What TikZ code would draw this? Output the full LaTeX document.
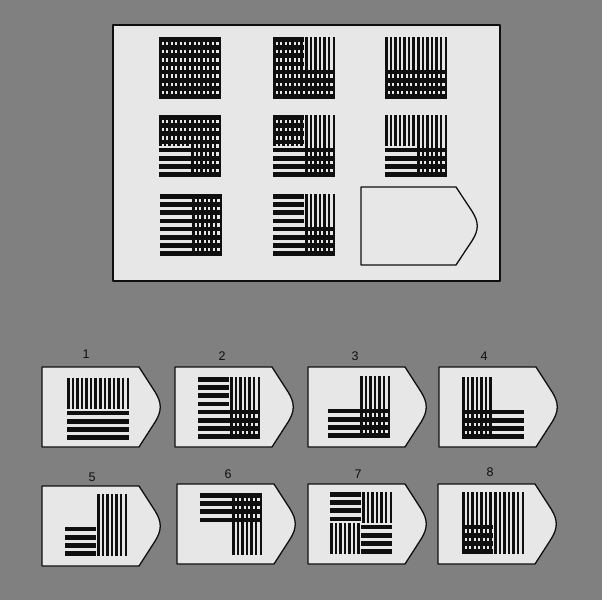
\documentclass[tikz,border=0pt]{standalone}
\usepackage{fontspec}
\setmainfont{Liberation Sans}
\definecolor{bg}{RGB}{128,128,128}
\definecolor{card}{RGB}{231,231,231}
\definecolor{ink}{RGB}{15,15,15}
% pattern: #1 origin, #2-#5 horizontal bars in TL TR BL BR, #6-#9 vertical bars in TL TR BL BR
\newcommand\patt[9]{%
\begin{scope}[shift={(#1)}]
\ifnum#2=1 \foreach \i in {0,...,3}{\fill[ink] (0,\i*8.2) rectangle (31,\i*8.2+4.6);}\fi
\ifnum#3=1 \foreach \i in {0,...,3}{\fill[ink] (31,\i*8.2) rectangle (62,\i*8.2+4.6);}\fi
\ifnum#4=1 \foreach \i in {4,...,7}{\fill[ink] (0,\i*8.2) rectangle (31,\i*8.2+4.6);}\fi
\ifnum#5=1 \foreach \i in {4,...,7}{\fill[ink] (31,\i*8.2) rectangle (62,\i*8.2+4.6);}\fi
\ifnum#6=1 \foreach \j in {0,...,6}{\fill[ink] (\j*4.577,0) rectangle (\j*4.577+2.5,31);}\fi
\ifnum#7=1 \foreach \j in {7,...,13}{\fill[ink] (\j*4.577,0) rectangle (\j*4.577+2.5,31);}\fi
\ifnum#8=1 \foreach \j in {0,...,6}{\fill[ink] (\j*4.577,31) rectangle (\j*4.577+2.5,62);}\fi
\ifnum#9=1 \foreach \j in {7,...,13}{\fill[ink] (\j*4.577,31) rectangle (\j*4.577+2.5,62);}\fi
\end{scope}}
% tag shape: #1 x, #2 y, #3 straight width, #4 height
\newcommand\tagshape[4]{%
\draw[cardline] (#1,#2) -- ++(#3,0) -- ++(16,0.31*#4)
  .. controls ++(7,0.14*#4) and ++(7,-0.14*#4) .. ++(0,0.38*#4)
  -- ++(-16,0.31*#4) -- ++(-#3,0) -- cycle;}
\begin{document}
\begin{tikzpicture}[x=1pt,y=-1pt,
  cardline/.style={draw=ink,line width=1.3pt,fill=card,line join=round},
  lbl/.style={font=\fontsize{12.5}{14}\selectfont,text=ink,inner sep=0pt}]
\fill[bg] (0,0) rectangle (602,600);
\useasboundingbox (0,0) rectangle (602,600);
% top panel
\draw[cardline] (113,25) rectangle (500,281);
% matrix cells
\patt{159,37}{1}{1}{1}{1}{1}{1}{1}{1}
\patt{273,37}{1}{0}{1}{1}{1}{1}{1}{1}
\patt{385,37}{0}{0}{1}{1}{1}{1}{1}{1}
\patt{159,115}{1}{1}{1}{1}{1}{1}{0}{1}
\patt{273,115}{1}{0}{1}{1}{1}{1}{0}{1}
\patt{385,115}{0}{0}{1}{1}{1}{1}{0}{1}
\patt{160,194}{1}{1}{1}{1}{0}{1}{0}{1}
\patt{273,194}{1}{0}{1}{1}{0}{1}{0}{1}
% answer slot
\tagshape{361}{187}{95}{78}
% options
\tagshape{42}{367}{97}{80}
\tagshape{175}{367}{97}{80}
\tagshape{308}{367}{97}{80}
\tagshape{439}{367}{97}{80}
\tagshape{42}{486}{97}{80}
\tagshape{177}{484}{97}{80}
\tagshape{308}{484}{97}{80}
\tagshape{438}{484}{97}{80}
\patt{67,378}{0}{0}{1}{1}{1}{1}{0}{0}
\patt{198,377}{1}{0}{1}{1}{0}{1}{0}{1}
\patt{328,376}{0}{0}{1}{1}{0}{1}{0}{1}
\patt{462,377}{0}{0}{1}{1}{1}{0}{1}{0}
\patt{65,494}{0}{0}{1}{0}{0}{1}{0}{1}
\patt{200,493}{1}{1}{0}{0}{0}{1}{0}{1}
\patt{330,492}{1}{0}{0}{1}{0}{1}{1}{0}
\patt{462,492}{0}{0}{1}{0}{1}{1}{1}{1}
% labels
\node[lbl] (l1) at (86,354) {1};
\node[lbl] (l2) at (222,356) {2};
\node[lbl] (l3) at (355,356) {3};
\node[lbl] (l4) at (484,356) {4};
\node[lbl] (l5) at (92,477) {5};
\node[lbl] (l6) at (228,474) {6};
\node[lbl] (l7) at (358,474) {7};
\node[lbl] (l8) at (490,472) {8};
\end{tikzpicture}
\end{document}
